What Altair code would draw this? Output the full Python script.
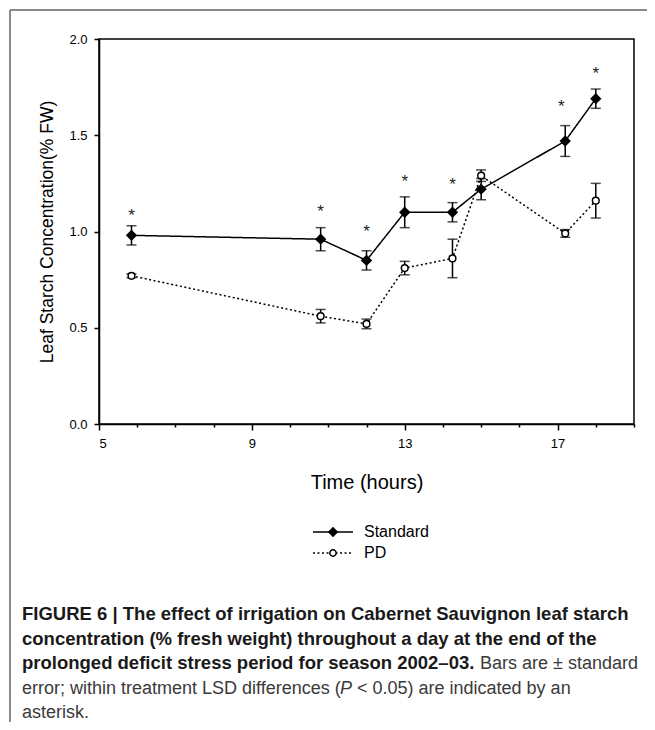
import altair as alt
import pandas as pd

# ---------------- data ----------------
hours = [5.85, 10.8, 12.0, 13.0, 14.25, 15.0, 17.2, 18.0]
standard_vals = [0.98, 0.96, 0.85, 1.10, 1.10, 1.22, 1.47, 1.69]
standard_se = [0.05, 0.06, 0.05, 0.08, 0.05, 0.055, 0.08, 0.05]
pd_vals = [0.77, 0.56, 0.52, 0.81, 0.86, 1.29, 0.99, 1.16]
pd_se = [0.01, 0.035, 0.025, 0.035, 0.10, 0.03, 0.02, 0.09]

asterisk_hours = [5.85, 10.8, 12.0, 13.0, 14.25, 17.1, 18.0]
asterisk_y = [1.10, 1.12, 1.02, 1.28, 1.26, 1.67, 1.84]

series_names = ["Standard", "PD"]
x_ticks = list(range(5, 20))
y_ticks = [0.0, 0.5, 1.0, 1.5, 2.0]

y_title = "Leaf Starch Concentration(% FW)"
x_title = "Time (hours)"

caption_bold = [
    "FIGURE 6 | The effect of irrigation on Cabernet Sauvignon leaf starch",
    "concentration (% fresh weight) throughout a day at the end of the",
    "prolonged deficit stress period for season 2002\u201303.",
]
caption_regular_3 = "Bars are \u00b1 standard"
caption_line4_a = "error; within treatment LSD differences ("
caption_line4_p = "P"
caption_line4_b = "< 0.05) are indicated by an"
caption_line5 = "asterisk."

FONT = "Liberation Sans, Arial, Helvetica, sans-serif"
W, H = 535, 385

std_df = pd.DataFrame({"hour": hours, "value": standard_vals, "se": standard_se})
std_df["lo"] = std_df["value"] - std_df["se"]
std_df["hi"] = std_df["value"] + std_df["se"]
pd_df = pd.DataFrame({"hour": hours, "value": pd_vals, "se": pd_se})
pd_df["lo"] = pd_df["value"] - pd_df["se"]
pd_df["hi"] = pd_df["value"] + pd_df["se"]
ast_df = pd.DataFrame({"hour": asterisk_hours, "y": asterisk_y})
one = pd.DataFrame({"k": [0]})

xscale = alt.Scale(domain=[5, 19], nice=False, zero=False)
yscale = alt.Scale(domain=[0, 2], nice=False, zero=True)

x_axis = alt.Axis(
    values=x_ticks,
    labelExpr="datum.value % 4 == 1 ? datum.label : ''",
    tickSize={"condition": {"test": "datum.value % 4 == 1", "value": 6}, "value": 3},
    labelPadding=7,
    title=x_title,
    titleX=267.5,
    titleY=58,
    titleAlign="center",
    titleBaseline="middle",
    titleFontSize=20,
)
y_axis = alt.Axis(
    values=y_ticks,
    format=".1f",
    tickSize=5,
    labelPadding=7,
    title=y_title,
    titleX=-52,
    titleY=192.5,
    titleAngle=270,
    titleAlign="center",
    titleBaseline="middle",
    titleFontSize=17.5,
)


def X():
    return alt.X("hour:Q", scale=xscale, axis=x_axis, title=x_title)


def Y(field):
    return alt.Y(field, scale=yscale, axis=y_axis, title=y_title)


def series_layers(df, dash, shape, fill, size):
    line = alt.Chart(df).mark_line(color="black", strokeWidth=1.5, strokeDash=dash).encode(
        x=X(), y=Y("value:Q")
    )
    bar = alt.Chart(df).mark_rule(color="black", strokeWidth=1.5).encode(
        x=X(), y=Y("lo:Q"), y2="hi:Q"
    )
    cap_lo = alt.Chart(df).mark_tick(color="black", orient="horizontal", size=10, thickness=1.5).encode(
        x=X(), y=Y("lo:Q")
    )
    cap_hi = alt.Chart(df).mark_tick(color="black", orient="horizontal", size=10, thickness=1.5).encode(
        x=X(), y=Y("hi:Q")
    )
    pts = alt.Chart(df).mark_point(
        shape=shape, filled=True, fill=fill, stroke="black", strokeWidth=1.5, size=size, opacity=1
    ).encode(x=X(), y=Y("value:Q"))
    return [line, bar, cap_lo, cap_hi, pts]


pd_layers = series_layers(pd_df, [2, 2.5], "circle", "white", 45)
std_layers = series_layers(std_df, [1, 0], "diamond", "black", 85)

asterisks = alt.Chart(ast_df).mark_text(
    text="*", font=FONT, fontSize=17, color="#222", baseline="middle", dy=4
).encode(x=X(), y=Y("y:Q"))

# ---------------- legend (drawn below the axis title) ----------------
leg_rows = {"Standard": 493, "PD": 514}
legend_layers = []
for name in series_names:
    yy = leg_rows[name]
    dash = [1, 0] if name == "Standard" else [2, 2.5]
    legend_layers.append(
        alt.Chart(one).mark_rule(color="black", strokeWidth=1.5, strokeDash=dash).encode(
            x=alt.value(214), x2=alt.value(254), y=alt.value(yy)
        )
    )
    legend_layers.append(
        alt.Chart(one).mark_point(
            shape="diamond" if name == "Standard" else "circle",
            filled=True,
            fill="black" if name == "Standard" else "white",
            stroke="black",
            strokeWidth=1.5,
            size=70 if name == "Standard" else 40,
            opacity=1,
        ).encode(x=alt.value(234), y=alt.value(yy))
    )
    legend_layers.append(
        alt.Chart(one).mark_text(
            text=name, font=FONT, fontSize=16, align="left", baseline="middle", color="black"
        ).encode(x=alt.value(265), y=alt.value(yy))
    )

# ---------------- caption ----------------
cx = -77
base_y = [581, 605.5, 630, 654.5, 679]
cap_layers = []
for i, line in enumerate(caption_bold):
    cap_layers.append(
        alt.Chart(one).mark_text(
            text=line, font=FONT, fontSize=18.5, fontWeight="bold", align="left",
            baseline="alphabetic", color="#1a1a1a"
        ).encode(x=alt.value(cx), y=alt.value(base_y[i]))
    )
reg_style = dict(font=FONT, fontSize=18, align="left", baseline="alphabetic", color="#3a3a3a")
cap_layers.append(alt.Chart(one).mark_text(text=caption_regular_3, **reg_style).encode(
    x=alt.value(381), y=alt.value(base_y[2])))
cap_layers.append(alt.Chart(one).mark_text(text=caption_line4_a, **reg_style).encode(
    x=alt.value(cx), y=alt.value(base_y[3])))
cap_layers.append(alt.Chart(one).mark_text(text=caption_line4_p, fontStyle="italic", **reg_style).encode(
    x=alt.value(241), y=alt.value(base_y[3])))
cap_layers.append(alt.Chart(one).mark_text(text=caption_line4_b, **reg_style).encode(
    x=alt.value(258), y=alt.value(base_y[3])))
cap_layers.append(alt.Chart(one).mark_text(text=caption_line5, **reg_style).encode(
    x=alt.value(cx), y=alt.value(base_y[4])))

# outer figure frame (top and left edges)
frame_top = alt.Chart(one).mark_rule(color="#8a8a8a", strokeWidth=2).encode(
    x=alt.value(-89), x2=alt.value(548), y=alt.value(-29)
)
frame_left = alt.Chart(one).mark_rule(color="#8a8a8a", strokeWidth=2).encode(
    x=alt.value(-89), y=alt.value(-29), y2=alt.value(683)
)

chart = alt.layer(
    *pd_layers,
    *std_layers,
    asterisks,
    *legend_layers,
    *cap_layers,
    frame_top,
    frame_left,
).properties(
    width=W,
    height=H,
    autosize=alt.AutoSizeParams(type="none"),
    padding={"left": 91, "top": 31, "right": 13, "bottom": 298},
    background="white",
).configure_view(
    stroke="black", strokeWidth=1.5
).configure_axis(
    domainColor="black",
    domainWidth=1.5,
    tickColor="black",
    tickWidth=1.5,
    labelColor="black",
    labelFont=FONT,
    labelFontSize=13,
    titleFont=FONT,
    titleFontWeight="normal",
    titleColor="black",
    grid=False,
)

chart.save("out.html", embed_options={"renderer": "svg", "actions": False})
